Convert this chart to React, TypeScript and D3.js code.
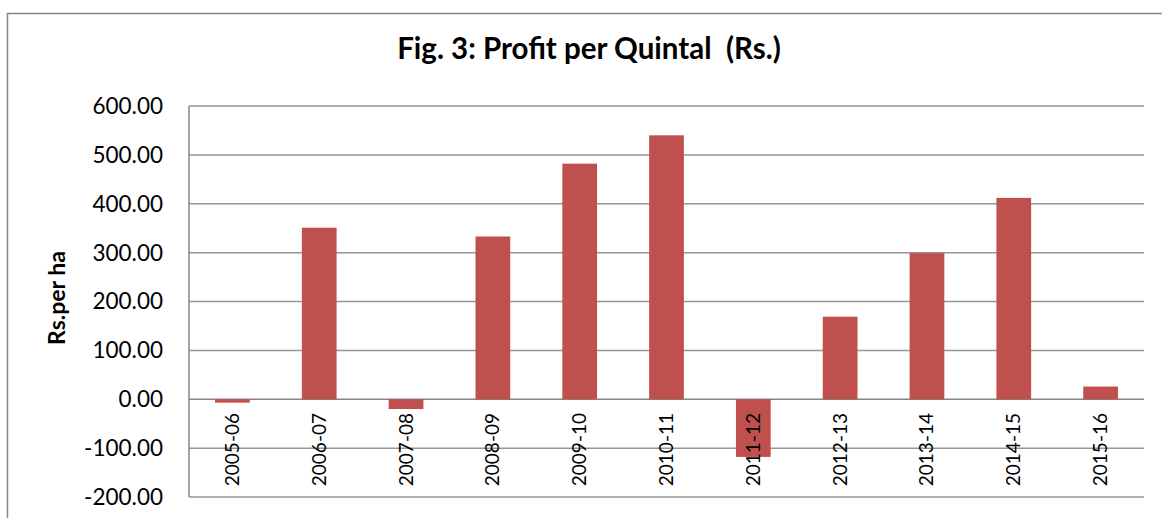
import React from "react";
import * as d3 from "d3";

const categories = ["2005-06","2006-07","2007-08","2008-09","2009-10","2010-11","2011-12","2012-13","2013-14","2014-15","2015-16"];
const profit = [-7, 351, -20, 333, 482, 540, -118, 169, 299, 412, 26];
const yTicks = [-200, -100, 0, 100, 200, 300, 400, 500, 600];
const title = "Fig. 3: Profit per Quintal  (Rs.)";
const yLabel = "Rs.per ha";

const W = 1162, H = 518;
const m = { left: 189, right: 1144, top: 106, bottom: 497 };
const FONT = "Lato, 'Open Sans', sans-serif";

export default function App() {
  const x = d3.scaleBand<string>().domain(categories).range([m.left, m.right]).paddingInner(0.6).paddingOuter(0.3);
  const y = d3.scaleLinear().domain([-200, 600]).range([m.bottom, m.top]);
  const bw = x.bandwidth();
  return (
    <svg width={W} height={H} style={{ position: "absolute", left: 0, top: 0, background: "#fff" }}>
      <rect x={7.5} y={13.5} width={1200} height={600} fill="#fff" stroke="#868686" strokeWidth={1.5} />
      {yTicks.map((t) => (
        <line key={t} x1={m.left} x2={m.right} y1={y(t)} y2={y(t)} stroke={t === 0 ? "#868686" : "#969696"} strokeWidth={1.5} />
      ))}
      <line x1={m.left} x2={m.left} y1={m.top} y2={m.bottom} stroke="#868686" strokeWidth={1.5} />
      {yTicks.map((t) => (
        <text key={"l" + t} x={163} y={y(t)} dy="0.35em" textAnchor="end" fontFamily={FONT} fontSize={22.5} fill="#000">
          {t.toFixed(2)}
        </text>
      ))}
      {categories.map((c, i) => {
        const v = profit[i];
        return (
          <rect key={c} x={x(c)!} width={bw} y={y(Math.max(0, v))} height={Math.abs(y(v) - y(0))} fill="#C0504D" />
        );
      })}
      {categories.map((c) => {
        const cx = x(c)! + bw / 2;
        return (
          <text key={"c" + c} transform={`translate(${cx + 6.5},413) rotate(-90)`} textAnchor="end" fontFamily={FONT} fontSize={19} fill="#000">
            {c}
          </text>
        );
      })}
      <text x={589} y={59} textAnchor="middle" fontFamily={FONT} fontWeight="bold" fontSize={29.5} fill="#000" style={{ whiteSpace: "pre" }}>
        {title}
      </text>
      <text transform={`translate(65,298) rotate(-90)`} textAnchor="middle" fontFamily={FONT} fontWeight="bold" fontSize={23} fill="#000">
        {yLabel}
      </text>
    </svg>
  );
}
